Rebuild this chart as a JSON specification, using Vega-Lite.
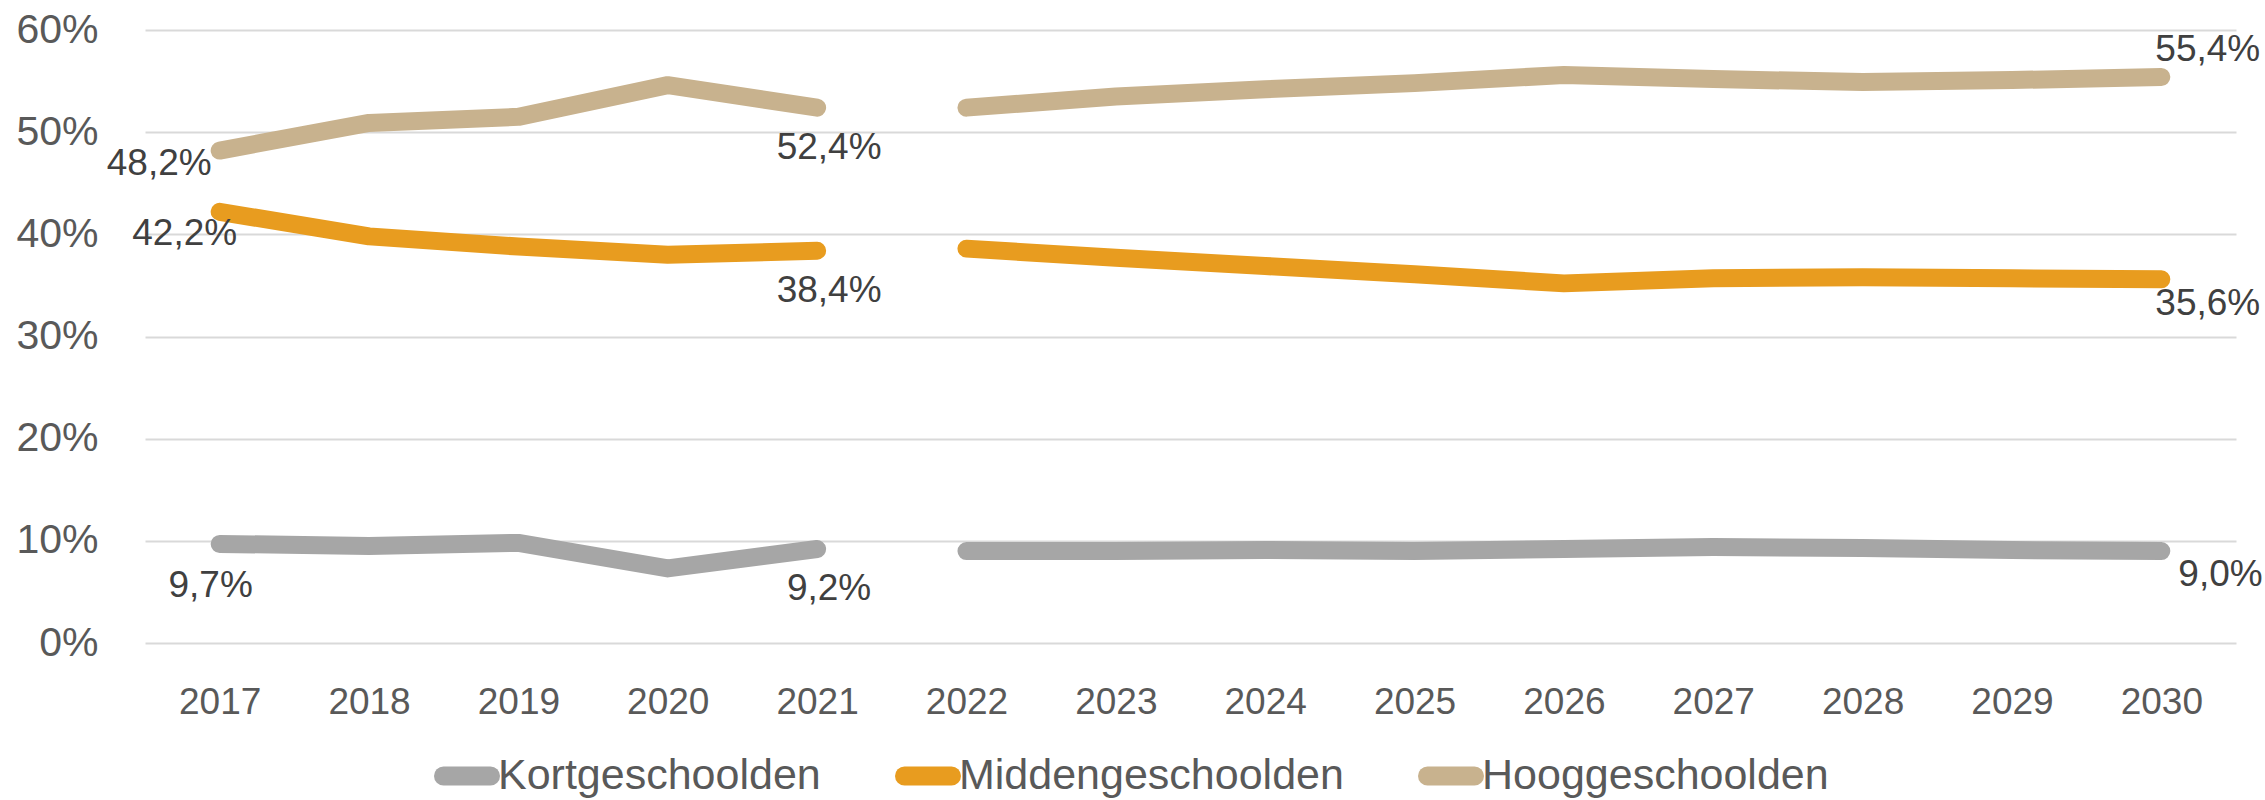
{
  "$schema": "https://vega.github.io/schema/vega-lite/v6.json",
  "autosize": {"type": "none"},
  "width": 2091,
  "height": 613,
  "padding": {"left": 145, "top": 30, "right": 29, "bottom": 157},
  "background": "white",
  "config": {
    "locale": {"number": {"decimal": ",", "thousands": ".", "grouping": [3], "currency": ["€", ""]}},
    "font": "Liberation Sans",
    "view": {"stroke": null}
  },
  "data": {
    "values": [
      {"year": "2017", "series": "Kortgeschoolden", "seg": "a", "value": 0.097},
      {"year": "2018", "series": "Kortgeschoolden", "seg": "a", "value": 0.095},
      {"year": "2019", "series": "Kortgeschoolden", "seg": "a", "value": 0.098},
      {"year": "2020", "series": "Kortgeschoolden", "seg": "a", "value": 0.073},
      {"year": "2021", "series": "Kortgeschoolden", "seg": "a", "value": 0.092},
      {"year": "2022", "series": "Kortgeschoolden", "seg": "b", "value": 0.090},
      {"year": "2023", "series": "Kortgeschoolden", "seg": "b", "value": 0.090},
      {"year": "2024", "series": "Kortgeschoolden", "seg": "b", "value": 0.091},
      {"year": "2025", "series": "Kortgeschoolden", "seg": "b", "value": 0.090},
      {"year": "2026", "series": "Kortgeschoolden", "seg": "b", "value": 0.092},
      {"year": "2027", "series": "Kortgeschoolden", "seg": "b", "value": 0.094},
      {"year": "2028", "series": "Kortgeschoolden", "seg": "b", "value": 0.093},
      {"year": "2029", "series": "Kortgeschoolden", "seg": "b", "value": 0.091},
      {"year": "2030", "series": "Kortgeschoolden", "seg": "b", "value": 0.090},
      {"year": "2017", "series": "Middengeschoolden", "seg": "a", "value": 0.422},
      {"year": "2018", "series": "Middengeschoolden", "seg": "a", "value": 0.398},
      {"year": "2019", "series": "Middengeschoolden", "seg": "a", "value": 0.388},
      {"year": "2020", "series": "Middengeschoolden", "seg": "a", "value": 0.380},
      {"year": "2021", "series": "Middengeschoolden", "seg": "a", "value": 0.384},
      {"year": "2022", "series": "Middengeschoolden", "seg": "b", "value": 0.386},
      {"year": "2023", "series": "Middengeschoolden", "seg": "b", "value": 0.377},
      {"year": "2024", "series": "Middengeschoolden", "seg": "b", "value": 0.369},
      {"year": "2025", "series": "Middengeschoolden", "seg": "b", "value": 0.361},
      {"year": "2026", "series": "Middengeschoolden", "seg": "b", "value": 0.352},
      {"year": "2027", "series": "Middengeschoolden", "seg": "b", "value": 0.357},
      {"year": "2028", "series": "Middengeschoolden", "seg": "b", "value": 0.358},
      {"year": "2029", "series": "Middengeschoolden", "seg": "b", "value": 0.357},
      {"year": "2030", "series": "Middengeschoolden", "seg": "b", "value": 0.356},
      {"year": "2017", "series": "Hooggeschoolden", "seg": "a", "value": 0.482},
      {"year": "2018", "series": "Hooggeschoolden", "seg": "a", "value": 0.509},
      {"year": "2019", "series": "Hooggeschoolden", "seg": "a", "value": 0.515},
      {"year": "2020", "series": "Hooggeschoolden", "seg": "a", "value": 0.546},
      {"year": "2021", "series": "Hooggeschoolden", "seg": "a", "value": 0.524},
      {"year": "2022", "series": "Hooggeschoolden", "seg": "b", "value": 0.524},
      {"year": "2023", "series": "Hooggeschoolden", "seg": "b", "value": 0.535},
      {"year": "2024", "series": "Hooggeschoolden", "seg": "b", "value": 0.542},
      {"year": "2025", "series": "Hooggeschoolden", "seg": "b", "value": 0.548},
      {"year": "2026", "series": "Hooggeschoolden", "seg": "b", "value": 0.556},
      {"year": "2027", "series": "Hooggeschoolden", "seg": "b", "value": 0.552},
      {"year": "2028", "series": "Hooggeschoolden", "seg": "b", "value": 0.549},
      {"year": "2029", "series": "Hooggeschoolden", "seg": "b", "value": 0.551},
      {"year": "2030", "series": "Hooggeschoolden", "seg": "b", "value": 0.554}
    ]
  },
  "encoding": {
    "x": {
      "field": "year", "type": "ordinal",
      "scale": {"type": "point", "padding": 0.5},
      "axis": {"title": null, "labelAngle": 0, "domain": false, "ticks": false, "grid": false,
               "labelFont": "Liberation Sans", "labelFontSize": 37, "labelColor": "#595959", "labelPadding": 41}
    },
    "y": {
      "field": "value", "type": "quantitative",
      "scale": {"domain": [0, 0.6], "nice": false},
      "axis": {"title": null, "format": ".0%", "values": [0, 0.1, 0.2, 0.3, 0.4, 0.5, 0.6],
               "domain": false, "ticks": false, "grid": true, "gridColor": "#D9D9D9", "gridWidth": 2,
               "labelFont": "Liberation Sans", "labelFontSize": 41, "labelColor": "#595959", "labelPadding": 47}
    }
  },
  "layer": [
    {
      "mark": {"type": "line", "strokeWidth": 18, "strokeCap": "round", "strokeJoin": "round"},
      "encoding": {
        "color": {
          "field": "series", "type": "nominal",
          "scale": {"domain": ["Kortgeschoolden", "Middengeschoolden", "Hooggeschoolden"],
                    "range": ["#A6A6A6", "#E89C1F", "#C8B28E"]},
          "legend": {
            "title": null, "orient": "none", "direction": "horizontal",
            "legendX": 289, "legendY": 713,
            "symbolType": "stroke", "symbolSize": 2209, "symbolStrokeWidth": 19,
            "labelFont": "Liberation Sans", "labelFontSize": 43, "labelColor": "#595959",
            "labelOffset": -2, "columnPadding": 45, "labelLimit": 600,
            "encode": {"symbols": {"update": {"strokeCap": {"value": "round"}}}}
          }
        },
        "detail": {"field": "seg"}
      }
    },
    {
      "transform": [{"filter": "datum.year == '2021'"}],
      "mark": {"type": "text", "align": "center", "baseline": "middle", "dx": 12, "dy": 40,
               "fontSize": 37, "color": "#404040", "font": "Liberation Sans"},
      "encoding": {"text": {"field": "value", "type": "quantitative", "format": ".1%"}}
    },
    {
      "transform": [{"filter": "datum.year == '2017' && datum.series == 'Kortgeschoolden'"}],
      "mark": {"type": "text", "align": "center", "baseline": "middle", "dx": -9, "dy": 42,
               "fontSize": 37, "color": "#404040", "font": "Liberation Sans"},
      "encoding": {"text": {"field": "value", "type": "quantitative", "format": ".1%"}}
    },
    {
      "transform": [{"filter": "datum.year == '2017' && datum.series == 'Hooggeschoolden'"}],
      "mark": {"type": "text", "align": "right", "baseline": "middle", "dx": -8, "dy": 13,
               "fontSize": 37, "color": "#404040", "font": "Liberation Sans"},
      "encoding": {"text": {"field": "value", "type": "quantitative", "format": ".1%"}}
    },
    {
      "transform": [{"filter": "datum.year == '2017' && datum.series == 'Middengeschoolden'"}],
      "mark": {"type": "text", "align": "center", "baseline": "middle", "dx": -35, "dy": 22,
               "fontSize": 37, "color": "#404040", "font": "Liberation Sans"},
      "encoding": {"text": {"field": "value", "type": "quantitative", "format": ".1%"}}
    },
    {
      "transform": [{"filter": "datum.year == '2030' && datum.series == 'Hooggeschoolden'"}],
      "mark": {"type": "text", "align": "left", "baseline": "middle", "dx": -6, "dy": -27,
               "fontSize": 37, "color": "#404040", "font": "Liberation Sans"},
      "encoding": {"text": {"field": "value", "type": "quantitative", "format": ".1%"}}
    },
    {
      "transform": [{"filter": "datum.year == '2030' && datum.series == 'Middengeschoolden'"}],
      "mark": {"type": "text", "align": "left", "baseline": "middle", "dx": -6, "dy": 25,
               "fontSize": 37, "color": "#404040", "font": "Liberation Sans"},
      "encoding": {"text": {"field": "value", "type": "quantitative", "format": ".1%"}}
    },
    {
      "transform": [{"filter": "datum.year == '2030' && datum.series == 'Kortgeschoolden'"}],
      "mark": {"type": "text", "align": "left", "baseline": "middle", "dx": 17, "dy": 24,
               "fontSize": 37, "color": "#404040", "font": "Liberation Sans"},
      "encoding": {"text": {"field": "value", "type": "quantitative", "format": ".1%"}}
    }
  ]
}
